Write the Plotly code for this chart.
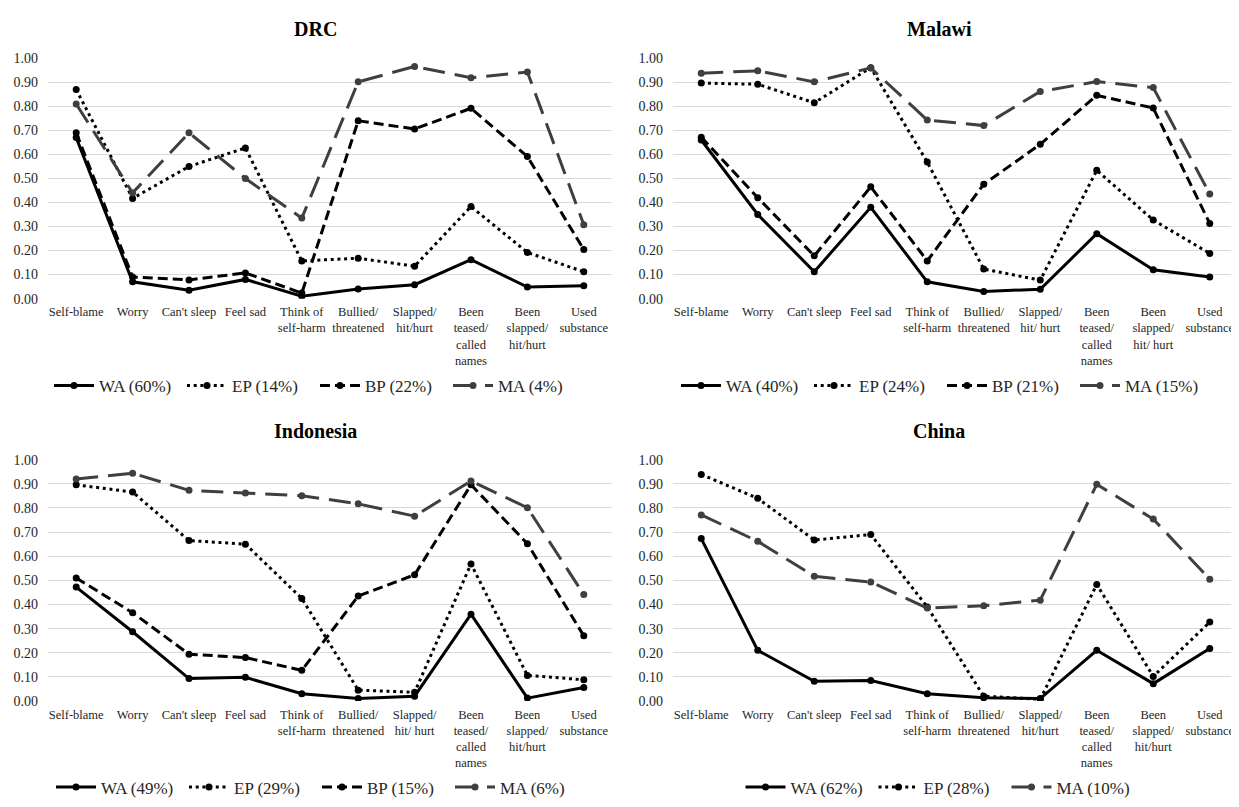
import plotly.graph_objects as go

W, H = 1239, 807
OFF = 8  # default page body margin in the written html

categories = ["Self-blame", "Worry", "Can't sleep", "Feel sad", "Think of self-harm",
              "Bullied/threatened", "Slapped/hit/hurt", "Been teased/called names",
              "Been slapped/hit/hurt", "Used substance"]

labels_drc = ["Self-blame", "Worry", "Can't sleep", "Feel sad", "Think of<br>self-harm",
              "Bullied/<br>threatened", "Slapped/<br>hit/hurt", "Been<br>teased/<br>called<br>names",
              "Been<br>slapped/<br>hit/hurt", "Used<br>substance"]
labels_malawi = ["Self-blame", "Worry", "Can't sleep", "Feel sad", "Think of<br>self-harm",
                 "Bullied/<br>threatened", "Slapped/<br>hit/ hurt", "Been<br>teased/<br>called<br>names",
                 "Been<br>slapped/<br>hit/ hurt", "Used<br>substance"]
labels_indonesia = ["Self-blame", "Worry", "Can't sleep", "Feel sad", "Think of<br>self-harm",
                    "Bullied/<br>threatened", "Slapped/<br>hit/ hurt", "Been<br>teased/<br>called<br>names",
                    "Been<br>slapped/<br>hit/hurt", "Used<br>substance"]
labels_china = labels_drc

y_ticks = [0.0, 0.1, 0.2, 0.3, 0.4, 0.5, 0.6, 0.7, 0.8, 0.9, 1.0]

# ---- DRC ----
drc_names = ["WA (60%)", "EP (14%)", "BP (22%)", "MA (4%)"]
drc_wa = [0.67, 0.07, 0.035, 0.08, 0.01, 0.04, 0.058, 0.162, 0.048, 0.054]
drc_ep = [0.87, 0.417, 0.55, 0.627, 0.157, 0.168, 0.135, 0.383, 0.192, 0.112]
drc_bp = [0.69, 0.09, 0.078, 0.107, 0.023, 0.74, 0.706, 0.792, 0.591, 0.204]
drc_ma = [0.81, 0.44, 0.69, 0.50, 0.335, 0.902, 0.966, 0.919, 0.943, 0.307]

# ---- Malawi ----
malawi_names = ["WA (40%)", "EP (24%)", "BP (21%)", "MA (15%)"]
malawi_wa = [0.66, 0.35, 0.112, 0.38, 0.07, 0.03, 0.039, 0.27, 0.12, 0.09]
malawi_ep = [0.897, 0.892, 0.815, 0.961, 0.568, 0.123, 0.077, 0.534, 0.327, 0.188]
malawi_bp = [0.672, 0.42, 0.178, 0.465, 0.157, 0.476, 0.642, 0.846, 0.793, 0.313]
malawi_ma = [0.938, 0.948, 0.902, 0.96, 0.743, 0.72, 0.862, 0.903, 0.878, 0.435]

# ---- Indonesia ----
indonesia_names = ["WA (49%)", "EP (29%)", "BP (15%)", "MA (6%)"]
indonesia_wa = [0.472, 0.287, 0.093, 0.098, 0.03, 0.01, 0.02, 0.36, 0.012, 0.056]
indonesia_ep = [0.896, 0.866, 0.665, 0.65, 0.425, 0.045, 0.036, 0.568, 0.106, 0.088]
indonesia_bp = [0.51, 0.366, 0.194, 0.18, 0.127, 0.435, 0.523, 0.896, 0.652, 0.27]
indonesia_ma = [0.92, 0.944, 0.873, 0.862, 0.851, 0.817, 0.766, 0.912, 0.801, 0.441]

# ---- China ----
china_names = ["WA (62%)", "EP (28%)", "MA (10%)"]
china_wa = [0.673, 0.21, 0.082, 0.085, 0.03, 0.013, 0.01, 0.21, 0.072, 0.218]
china_ep = [0.939, 0.84, 0.667, 0.69, 0.39, 0.02, 0.007, 0.483, 0.102, 0.327]
china_ma = [0.771, 0.662, 0.517, 0.493, 0.385, 0.395, 0.418, 0.898, 0.754, 0.505]

FONT = "Liberation Serif"
TXT = "#262626"
GRID = "#d9d9d9"

styles = {
    "WA": dict(color="black", dash="solid"),
    "EP": dict(color="black", dash="3px,3.7px"),
    "BP": dict(color="black", dash="10px,5px"),
    "MA": dict(color="#3f3f3f", dash="22px,10px"),
}

panels = [
    dict(title="DRC", labels=labels_drc, names=drc_names,
         series=[("WA", drc_wa), ("EP", drc_ep), ("BP", drc_bp), ("MA", drc_ma)],
         xdom=(48, 612), ydom=(52, 297), title_xy=(315, 22), leg_xy=(315, 386)),
    dict(title="Malawi", labels=labels_malawi, names=malawi_names,
         series=[("WA", malawi_wa), ("EP", malawi_ep), ("BP", malawi_bp), ("MA", malawi_ma)],
         xdom=(673, 1238), ydom=(52, 297), title_xy=(939, 22), leg_xy=(942, 386)),
    dict(title="Indonesia", labels=labels_indonesia, names=indonesia_names,
         series=[("WA", indonesia_wa), ("EP", indonesia_ep), ("BP", indonesia_bp), ("MA", indonesia_ma)],
         xdom=(48, 612), ydom=(461, 707), title_xy=(315, 432), leg_xy=(317, 795)),
    dict(title="China", labels=labels_china, names=china_names,
         series=[("WA", china_wa), ("EP", china_ep), ("MA", china_ma)],
         xdom=(673, 1238), ydom=(461, 707), title_xy=(939, 432), leg_xy=(940, 795)),
]


def px_x(x):
    return (x - OFF) / W


def px_y(y):
    return 1 - (y - OFF) / H


fig = go.Figure()
layout = {}
annotations = []

for i, p in enumerate(panels):
    n = i + 1
    xa = "x" if n == 1 else f"x{n}"
    ya = "y" if n == 1 else f"y{n}"
    leg = "legend" if n == 1 else f"legend{n}"
    for (key, vals), name in zip(p["series"], p["names"]):
        st = styles[key]
        fig.add_trace(go.Scatter(
            x=p["labels"], y=vals, name=name, mode="lines+markers",
            line=dict(color=st["color"], width=3, dash=st["dash"]),
            marker=dict(color=st["color"], size=7, symbol="circle"),
            xaxis=xa, yaxis=ya, legend=leg, showlegend=True,
        ))
    x0, x1 = p["xdom"]
    yt, yb = p["ydom"]
    xkey = "xaxis" if n == 1 else f"xaxis{n}"
    ykey = "yaxis" if n == 1 else f"yaxis{n}"
    layout[xkey] = dict(
        domain=[px_x(x0), px_x(x1)], anchor=ya, type="category",
        categoryorder="array", categoryarray=p["labels"],
        range=[-0.5, 9.5], showgrid=False, zeroline=False, showline=False,
        ticks="", tickfont=dict(family=FONT, size=12.5, color=TXT),
        tickangle=0, ticklabelstandoff=4,
    )
    layout[ykey] = dict(
        domain=[px_y(yb), px_y(yt)], anchor=xa,
        range=[0, 1.0005], tickvals=y_ticks, tickformat=".2f",
        showgrid=True, gridcolor=GRID, gridwidth=1, zeroline=False, showline=False,
        ticks="", tickfont=dict(family=FONT, size=14, color=TXT),
        ticklabelstandoff=9,
    )
    lx, ly = p["leg_xy"]
    layout[leg] = dict(
        orientation="h", x=px_x(lx), y=px_y(ly), xanchor="center", yanchor="middle",
        xref="paper", yref="paper",
        font=dict(family=FONT, size=17, color=TXT), bgcolor="rgba(0,0,0,0)",
        itemwidth=40, entrywidth=78, traceorder="normal",
    )
    tx, ty = p["title_xy"]
    annotations.append(dict(
        text=f"<b>{p['title']}</b>", x=px_x(tx), y=px_y(ty), xref="paper", yref="paper",
        xanchor="center", yanchor="middle", showarrow=False,
        font=dict(family=FONT, size=20, color="black"),
    ))

fig.update_layout(
    width=W, height=H, margin=dict(l=0, r=0, t=0, b=0),
    paper_bgcolor="white", plot_bgcolor="white",
    font=dict(family=FONT, color=TXT),
    annotations=annotations, **layout,
)

fig.write_html("out.html")
